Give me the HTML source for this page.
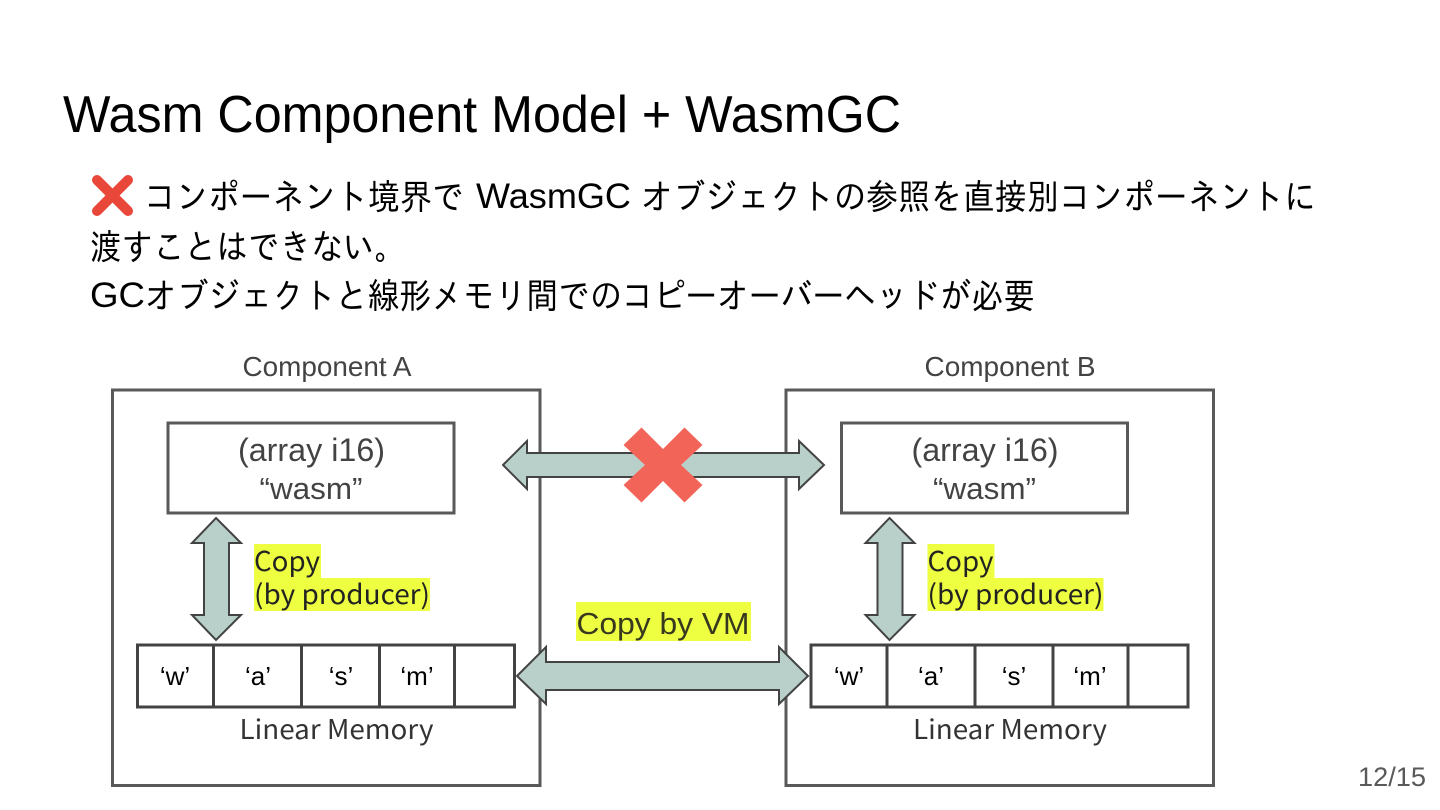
<!DOCTYPE html>
<html lang="ja">
<head>
<meta charset="utf-8">
<title>Wasm Component Model + WasmGC</title>
<style>
html,body{margin:0;padding:0;background:#fff;width:1440px;height:810px;overflow:hidden}
svg{display:block}
.s{font-family:"Liberation Sans",sans-serif}
.j{font-family:"Liberation Sans","WenQuanYi Zen Hei","IPAGothic","Noto Sans CJK JP",sans-serif;fill:#000;font-size:35.500px}
.n{font-family:"Noto Sans CJK JP","Liberation Sans",sans-serif}
.g{fill:#434343}
.b{fill:#fff;stroke:#595959;stroke-width:3}
.a{fill:#b9cfc9;stroke:#434343;stroke-width:2;stroke-linejoin:miter}
.m{font-family:"Liberation Sans",sans-serif;font-size:26px;fill:#000;text-anchor:middle}
</style>
</head>
<body>
<svg width="1440" height="810" viewBox="0 0 1440 810" xmlns="http://www.w3.org/2000/svg">
<rect width="1440" height="810" fill="#fff"/>
<text class="s" x="63" y="132" font-size="52" fill="#000" textLength="838" lengthAdjust="spacingAndGlyphs">Wasm Component Model + WasmGC</text>

<g stroke="#e8473a" stroke-width="10" stroke-linecap="round"><path d="M97 180L128 211M128 180L97 211"/></g>
<text class="j" x="144" y="209.500" textLength="320" lengthAdjust="spacingAndGlyphs">コンポーネント境界で</text>
<text class="j" x="476" y="208" textLength="155" lengthAdjust="spacingAndGlyphs">WasmGC</text>
<text class="j" x="641" y="209.500" textLength="675" lengthAdjust="spacingAndGlyphs">オブジェクトの参照を直接別コンポーネントに</text>
<text class="j" x="90" y="259.500" textLength="316" lengthAdjust="spacingAndGlyphs">渡すことはできない。</text>
<text class="j" x="90" y="307" textLength="55" lengthAdjust="spacingAndGlyphs">GC</text>
<text class="j" x="145" y="308.500" textLength="890" lengthAdjust="spacingAndGlyphs">オブジェクトと線形メモリ間でのコピーオーバーヘッドが必要</text>

<text class="s g" x="327" y="376" font-size="28" text-anchor="middle" textLength="169" lengthAdjust="spacingAndGlyphs">Component A</text>
<text class="s g" x="1010" y="376" font-size="28" text-anchor="middle" textLength="171" lengthAdjust="spacingAndGlyphs">Component B</text>

<rect class="b" x="112.500" y="390" width="427.500" height="395.500"/>
<rect class="b" x="786" y="390" width="427.500" height="395.500"/>

<g id="inner-a">
<rect class="b" x="168" y="423" width="286" height="90"/>
<text class="s g" x="311.500" y="461" font-size="32" text-anchor="middle" textLength="147" lengthAdjust="spacingAndGlyphs">(array i16)</text>
<text class="s g" x="311" y="499" font-size="31" text-anchor="middle" textLength="103" lengthAdjust="spacingAndGlyphs">“wasm”</text>
<path class="a" d="M216 518L241 543H229V615H241L216 640L192 615H204V543H192Z"/>
<rect x="254" y="544" width="67" height="34" fill="#eeff41"/>
<rect x="254" y="578" width="176" height="33" fill="#eeff41"/>
<text class="n" x="254" y="571" font-size="27" fill="#222" textLength="66" lengthAdjust="spacingAndGlyphs">Copy</text>
<text class="n" x="254" y="604" font-size="27" fill="#222" textLength="176" lengthAdjust="spacingAndGlyphs">(by producer)</text>
<rect x="137.500" y="645" width="377" height="62" fill="#fff" stroke="#434343" stroke-width="3"/>
<path d="M213.500 645V707M301.500 645V707M379.500 645V707M454.500 645V707" stroke="#434343" stroke-width="3" fill="none"/>
<text class="m" x="175" y="685">‘w’</text>
<text class="m" x="258" y="685">‘a’</text>
<text class="m" x="341" y="685">‘s’</text>
<text class="m" x="417" y="685">‘m’</text>
<text class="n" x="336.500" y="739" font-size="27" fill="#333" text-anchor="middle" textLength="194" lengthAdjust="spacingAndGlyphs">Linear Memory</text>
</g>

<g id="inner-b">
<rect class="b" x="841.500" y="423" width="286" height="90"/>
<text class="s g" x="985" y="461" font-size="32" text-anchor="middle" textLength="147" lengthAdjust="spacingAndGlyphs">(array i16)</text>
<text class="s g" x="984.500" y="499" font-size="31" text-anchor="middle" textLength="103" lengthAdjust="spacingAndGlyphs">“wasm”</text>
<path class="a" d="M889.500 518L914.500 543H902.500V615H914.500L889.500 640L865.500 615H877.500V543H865.500Z"/>
<rect x="927.500" y="544" width="67" height="34" fill="#eeff41"/>
<rect x="927.500" y="578" width="176" height="33" fill="#eeff41"/>
<text class="n" x="927.500" y="571" font-size="27" fill="#222" textLength="66" lengthAdjust="spacingAndGlyphs">Copy</text>
<text class="n" x="927.500" y="604" font-size="27" fill="#222" textLength="176" lengthAdjust="spacingAndGlyphs">(by producer)</text>
<rect x="811" y="645" width="377" height="62" fill="#fff" stroke="#434343" stroke-width="3"/>
<path d="M887 645V707M975 645V707M1053 645V707M1128 645V707" stroke="#434343" stroke-width="3" fill="none"/>
<text class="m" x="849" y="685">‘w’</text>
<text class="m" x="931" y="685">‘a’</text>
<text class="m" x="1014" y="685">‘s’</text>
<text class="m" x="1090" y="685">‘m’</text>
<text class="n" x="1010" y="739" font-size="27" fill="#333" text-anchor="middle" textLength="194" lengthAdjust="spacingAndGlyphs">Linear Memory</text>
</g>

<path class="a" d="M503 465L527 441V453H799V441L824 465L799 489V477H527V489Z"/>
<path d="M641.500 427.500L663 449L684.500 427.500L702.500 445L681 465L702.500 485L684.500 502.500L663 481L641.500 502.500L623.500 485L645 465L623.500 445Z" fill="#f26457"/>

<rect x="576" y="602" width="175" height="39" fill="#eeff41"/>
<text class="s" x="663" y="634" font-size="31" fill="#38381f" text-anchor="middle" textLength="173" lengthAdjust="spacingAndGlyphs">Copy by VM</text>
<path class="a" d="M517 676L546 647V662H779V647L808 676L779 704V690H546V704Z"/>

<text class="s" x="1392" y="786" font-size="27" fill="#595959" text-anchor="middle" textLength="68" lengthAdjust="spacingAndGlyphs">12/15</text>
</svg>
</body>
</html>
